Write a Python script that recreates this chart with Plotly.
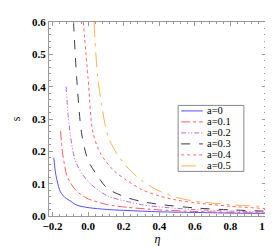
import plotly.graph_objects as go

labels = ["a=0", "a=0.1", "a=0.2", "a=0.3", "a=0.4", "a=0.5"]

eta_a0 = [-0.193, -0.185, -0.175, -0.156, -0.13, -0.11, -0.065, 0.0, 0.109, 0.218, 0.4, 0.6, 0.8, 1.0]
s_a0 = [0.18, 0.14, 0.11, 0.075, 0.057, 0.05, 0.034, 0.026, 0.02, 0.017, 0.013, 0.011, 0.009, 0.008]

eta_a1 = [-0.155, -0.145, -0.13, -0.12, -0.08, -0.04, 0.0, 0.109, 0.218, 0.4, 0.6, 0.8, 1.0]
s_a1 = [0.263, 0.20, 0.15, 0.125, 0.087, 0.066, 0.053, 0.035, 0.027, 0.019, 0.014, 0.011, 0.009]

eta_a2 = [-0.124, -0.112, -0.1, -0.085, -0.073, -0.036, 0.018, 0.109, 0.218, 0.3, 0.4, 0.6, 0.8, 1.0]
s_a2 = [0.40, 0.31, 0.25, 0.20, 0.172, 0.132, 0.097, 0.062, 0.045, 0.035, 0.028, 0.02, 0.015, 0.012]

eta_a3 = [-0.082, -0.064, -0.036, 0.0, 0.055, 0.109, 0.218, 0.3, 0.4, 0.6, 0.8, 1.0]
s_a3 = [0.6, 0.424, 0.253, 0.172, 0.122, 0.085, 0.057, 0.045, 0.036, 0.025, 0.019, 0.015]

eta_a4 = [-0.027, 0.0, 0.027, 0.073, 0.145, 0.218, 0.3, 0.4, 0.5, 0.6, 0.8, 1.0]
s_a4 = [0.6, 0.424, 0.258, 0.19, 0.14, 0.11, 0.082, 0.062, 0.049, 0.041, 0.03, 0.023]

eta_a5 = [0.033, 0.055, 0.1, 0.118, 0.164, 0.218, 0.3, 0.4, 0.5, 0.6, 0.8, 1.0]
s_a5 = [0.6, 0.424, 0.27, 0.238, 0.19, 0.152, 0.11, 0.077, 0.057, 0.046, 0.035, 0.029]

x_ticks = [-0.2, 0.0, 0.2, 0.4, 0.6, 0.8, 1.0]
x_ticktext = ["\u22120.2", "0.0", "0.2", "0.4", "0.6", "0.8", "1.0"]
y_ticks = [0.0, 0.1, 0.2, 0.3, 0.4, 0.5, 0.6]
y_ticktext = ["0.0", "0.1", "0.2", "0.3", "0.4", "0.5", "0.6"]

SERIF = "Liberation Serif"

series = [
    (eta_a0, s_a0, "rgb(80,80,255)", "solid"),
    (eta_a1, s_a1, "rgb(255,90,90)", "dashdot"),
    (eta_a2, s_a2, "rgb(190,100,220)", "5px,2px,1px,2px,1px,2px"),
    (eta_a3, s_a3, "rgb(60,60,60)", "dash"),
    (eta_a4, s_a4, "rgb(255,100,100)", "dot"),
    (eta_a5, s_a5, "rgb(255,175,80)", "longdashdot"),
]

fig = go.Figure()
for (x, y, c, d), name in zip(series, labels):
    fig.add_trace(go.Scatter(x=x, y=y, mode="lines", name=name, showlegend=False,
                             line=dict(color=c, dash=d, width=1, shape="spline", smoothing=0.8)))

axis_common = dict(showline=True, mirror="ticks", linecolor="#999999", linewidth=1,
                   ticks="inside", ticklen=4, tickcolor="#999999", showgrid=False, zeroline=False,
                   ticklabeloverflow="allow",
                   tickfont=dict(family=SERIF, size=11, color="black", weight="bold"))

fig.update_xaxes(range=[-0.22, 1.0], tickvals=x_ticks, ticktext=x_ticktext,
                 minor=dict(ticks="inside", ticklen=2, tickcolor="#999999", dtick=0.04, tick0=0),
                 title=dict(text="<i>\u03b7</i>", font=dict(family=SERIF, size=12, color="black"), standoff=0),
                 **axis_common)
fig.update_yaxes(range=[0, 0.6], tickvals=y_ticks, ticktext=y_ticktext,
                 minor=dict(ticks="inside", ticklen=2, tickcolor="#999999", dtick=0.02, tick0=0),
                 title=dict(text="s", font=dict(family=SERIF, size=12, color="black"), standoff=8),
                 **axis_common)

# hand-drawn compact legend box (paper coordinates)
lx0, lx1, ly_top, ly_bot = 0.595, 0.898, 0.57, 0.23
fig.add_shape(type="rect", xref="paper", yref="paper", x0=lx0, x1=lx1, y0=ly_bot, y1=ly_top,
              line=dict(color="#888888", width=1), fillcolor="white", layer="above")
step = (ly_top - ly_bot) / len(labels)
for i, ((x, y, c, d), name) in enumerate(zip(series, labels)):
    yc = ly_top - step * (i + 0.5)
    fig.add_shape(type="line", xref="paper", yref="paper", x0=0.609, x1=0.709, y0=yc, y1=yc,
                  line=dict(color=c, dash=d, width=1), layer="above")
    fig.add_annotation(xref="paper", yref="paper", x=0.718, y=yc, text=name, showarrow=False,
                       xanchor="left", yanchor="middle",
                       font=dict(family=SERIF, size=10.5, color="black"))

fig.update_layout(
    width=273, height=246,
    margin=dict(l=40, r=12, t=8, b=38),
    plot_bgcolor="white", paper_bgcolor="white",
    showlegend=False,
)

fig.write_html("out.html")
